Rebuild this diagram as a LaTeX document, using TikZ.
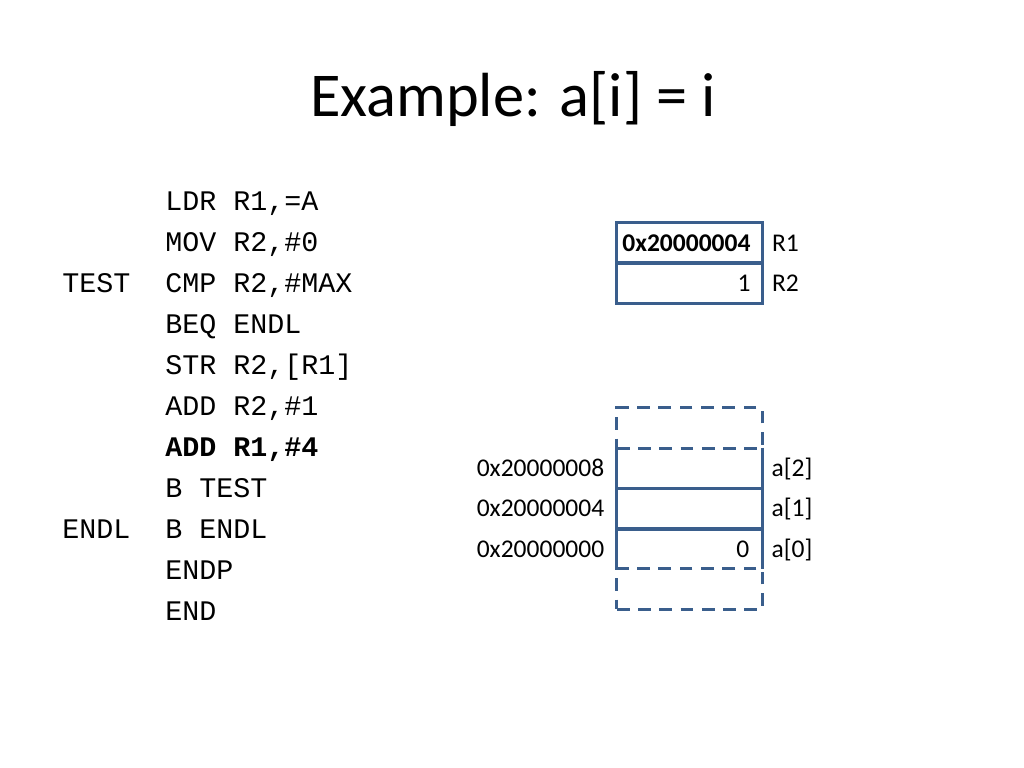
\documentclass[tikz,border=0pt]{standalone}
\usepackage{fontspec}
\setmainfont{Carlito}
\newfontfamily\codefont{Liberation Mono}
\usetikzlibrary{positioning}
\definecolor{boxblue}{HTML}{3A5E8C}
\begin{document}
\begin{tikzpicture}[x=0.0248cm, y=-0.0248cm,
    code/.style={anchor=base west, inner sep=0pt, font=\codefont\fontsize{20}{24}\selectfont},
    cell/.style={minimum width=3.6cm, minimum height=1cm, inner sep=0pt},
    regcell/.style={cell, draw=boxblue, line width=2.2pt},
    spare/.style={cell, draw=boxblue, line width=2.2pt, dash pattern=on 9pt off 6pt},
    cellline/.style={draw=boxblue, line width=2.2pt},
    value/.style={anchor=base east, inner sep=0pt, font=\fontsize{18}{22}\selectfont},
    tag/.style={anchor=base west, inner sep=0pt, font=\fontsize{18}{22}\selectfont},
    addr/.style={anchor=base east, inner sep=0pt, font=\fontsize{18}{22}\selectfont}]
\useasboundingbox (0,0) rectangle (1024,768);
% title
\node [anchor=base, font=\fontsize{44}{50}\selectfont] (title) at (513,117) {Example: a[i] = i};
% program
\node [code] (lbltest) at (62,292) {TEST};
\node [code] (lblendl) at (62,538) {ENDL};
\node [code] (l1) at (165,210) {LDR R1,=A};
\node [code] (l2) at (165,251) {MOV R2,\#0};
\node [code] (l3) at (165,292) {CMP R2,\#MAX};
\node [code] (l4) at (165,333) {BEQ ENDL};
\node [code] (l5) at (165,374) {STR R2,[R1]};
\node [code] (l6) at (165,415) {ADD R2,\#1};
\node [code, font=\codefont\bfseries\fontsize{20}{24}\selectfont] (l7) at (165,456) {ADD R1,\#4};
\node [code] (l8) at (165,497) {B TEST};
\node [code] (l9) at (165,538) {B ENDL};
\node [code] (l10) at (165,579) {ENDP};
\node [code] (l11) at (165,620) {END};
% registers
\node [regcell] (r1) at (689.5,243) {};
\node [regcell] (r2) at (689.5,283) {};
\node [value, font=\bfseries\fontsize{18}{22}\selectfont] (r1val) at ([xshift=-0.32cm, yshift=-0.21cm]r1.east) {0x20000004};
\node [value] (r2val) at ([xshift=-0.32cm, yshift=-0.21cm]r2.east) {1};
\node [tag] (r1name) at ([xshift=0.2cm, yshift=-0.21cm]r1.east) {R1};
\node [tag] (r2name) at ([xshift=0.2cm, yshift=-0.21cm]r2.east) {R2};
% memory
\node [spare] (mtop) at (689.5,428) {};
\node [spare] (mbot) at (689.5,589) {};
\node [cell] (m2) at (689.5,468) {};
\node [cell] (m1) at (689.5,508.5) {};
\node [cell] (m0) at (689.5,549) {};
\node [value] (m0val) at ([xshift=-0.32cm, yshift=-0.21cm]m0.east) {0};
\draw [cellline] (m2.north west) -- (m0.south west);
\draw [cellline] (m2.north east) -- (m0.south east);
\draw [cellline] (m2.south west) -- (m2.south east);
\draw [cellline] (m1.south west) -- (m1.south east);
\node [addr] (addr2) at ([xshift=-0.3cm, yshift=-0.21cm]m2.west) {0x20000008};
\node [addr] (addr1) at ([xshift=-0.3cm, yshift=-0.21cm]m1.west) {0x20000004};
\node [addr] (addr0) at ([xshift=-0.3cm, yshift=-0.21cm]m0.west) {0x20000000};
\node [tag] (a2) at ([xshift=0.22cm, yshift=-0.21cm]m2.east) {a[2]};
\node [tag] (a1) at ([xshift=0.22cm, yshift=-0.21cm]m1.east) {a[1]};
\node [tag] (a0) at ([xshift=0.22cm, yshift=-0.21cm]m0.east) {a[0]};
\end{tikzpicture}
\end{document}
